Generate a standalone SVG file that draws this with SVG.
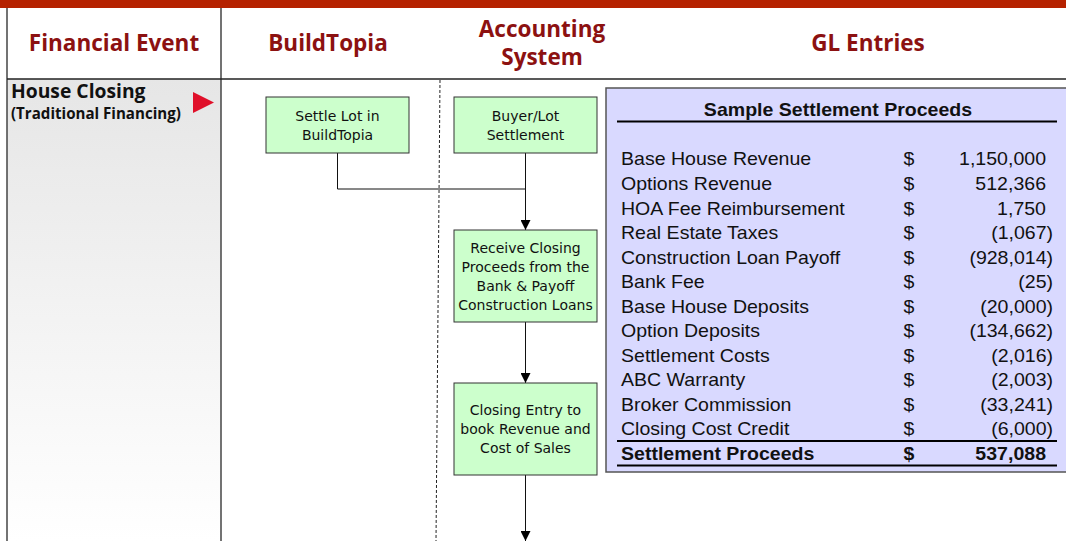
<svg xmlns="http://www.w3.org/2000/svg" width="1066" height="541" viewBox="0 0 1066 541">
<style>
.hdr{font-family:"Open Sans",sans-serif;font-weight:bold;font-size:22.5px;fill:#8c1111;text-anchor:middle}
.box{fill:#ccffcc;stroke:#333;stroke-width:1}
.bt{font-family:"DejaVu Sans",sans-serif;font-size:14px;fill:#111;text-anchor:middle}
.tb{font-family:"Liberation Sans",Arial,sans-serif;font-size:17.5px;fill:#111}
.r{text-anchor:end}
.c{text-anchor:middle}
.b{font-weight:bold}
.conn{stroke:#111;stroke-width:1;fill:none}
</style>
<defs>
<linearGradient id="gray" x1="0" y1="0" x2="0" y2="1">
<stop offset="0" stop-color="#e6e6e6"/>
<stop offset="1" stop-color="#ffffff"/>
</linearGradient>
<marker id="arr" viewBox="0 0 10 10" refX="10" refY="5" markerWidth="10" markerHeight="10" markerUnits="userSpaceOnUse" orient="auto">
<path d="M0,0 L10,5 L0,10 z" fill="#000"/>
</marker>
</defs>
<rect x="0" y="0" width="1066" height="541" fill="#fff"/>
<rect x="0" y="0" width="1066" height="8" fill="#b52200"/>
<g id="lanes">
<rect x="7" y="79" width="214" height="462" fill="url(#gray)"/>
<line x1="7" y1="8" x2="7" y2="541" stroke="#444" stroke-width="1.5"/>
<line x1="221" y1="8" x2="221" y2="541" stroke="#444" stroke-width="1.5"/>
<line x1="7" y1="79" x2="1066" y2="79" stroke="#222" stroke-width="1.5"/>
<line x1="440" y1="80" x2="436" y2="541" stroke="#222" stroke-width="1" stroke-dasharray="3,2"/>
<text class="hdr" x="114" y="51">Financial Event</text>
<text class="hdr" x="328" y="51">BuildTopia</text>
<text class="hdr" x="542" y="37">Accounting</text>
<text class="hdr" x="542" y="65">System</text>
<text class="hdr" x="868" y="51">GL Entries</text>
</g>
<g id="event">
<text x="11" y="98" font-family="'Open Sans',sans-serif" font-weight="bold" font-size="19.3" fill="#111">House Closing</text>
<text x="11" y="119" font-family="'Open Sans',sans-serif" font-weight="bold" font-size="15.1" fill="#111">(Traditional Financing)</text>
<polygon points="193,92 193,113 214,102.5" fill="#e0102a"/>
</g>
<g id="connectors">
<polyline class="conn" points="337.5,153 337.5,189 525.5,189"/>
<line class="conn" x1="525.5" y1="153" x2="525.5" y2="230" marker-end="url(#arr)"/>
<line class="conn" x1="525.5" y1="322" x2="525.5" y2="383" marker-end="url(#arr)"/>
<line class="conn" x1="525.5" y1="475" x2="525.5" y2="541" marker-end="url(#arr)"/>
</g>
<g id="settle-lot">
<rect class="box" x="266" y="97" width="143" height="56"/>
<text class="bt" x="337.5" y="121">Settle Lot in</text>
<text class="bt" x="337.5" y="140">BuildTopia</text>
</g>
<g id="buyer-lot">
<rect class="box" x="454" y="97" width="143" height="56"/>
<text class="bt" x="525.5" y="121">Buyer/Lot</text>
<text class="bt" x="525.5" y="140">Settlement</text>
</g>
<g id="receive">
<rect class="box" x="454" y="230" width="143" height="92"/>
<text class="bt" x="525.5" y="253">Receive Closing</text>
<text class="bt" x="525.5" y="272">Proceeds from the</text>
<text class="bt" x="525.5" y="291">Bank &amp; Payoff</text>
<text class="bt" x="525.5" y="310">Construction Loans</text>
</g>
<g id="closing-entry">
<rect class="box" x="454" y="383" width="143" height="92"/>
<text class="bt" x="525.5" y="415">Closing Entry to</text>
<text class="bt" x="525.5" y="434">book Revenue and</text>
<text class="bt" x="525.5" y="453">Cost of Sales</text>
</g>
<g id="proceeds">
<rect x="606" y="88" width="470" height="384" fill="#d9d9ff" stroke="#555" stroke-width="1.5"/>
<g transform="translate(838,0) scale(1.117,1)">
<text class="tb b c" x="0" y="116.5">Sample Settlement Proceeds</text>
</g>
<line x1="617" y1="121.5" x2="1057" y2="121.5" stroke="#000" stroke-width="2"/>
<g transform="translate(621,0) scale(1.117,1)">
<text class="tb" x="0" y="165.5">Base House Revenue</text>
<text class="tb" x="0" y="190">Options Revenue</text>
<text class="tb" x="0" y="215">HOA Fee Reimbursement</text>
<text class="tb" x="0" y="239.5">Real Estate Taxes</text>
<text class="tb" x="0" y="264">Construction Loan Payoff</text>
<text class="tb" x="0" y="288.5">Bank Fee</text>
<text class="tb" x="0" y="313">Base House Deposits</text>
<text class="tb" x="0" y="337.5">Option Deposits</text>
<text class="tb" x="0" y="362">Settlement Costs</text>
<text class="tb" x="0" y="386.5">ABC Warranty</text>
<text class="tb" x="0" y="411">Broker Commission</text>
<text class="tb" x="0" y="435.5">Closing Cost Credit</text>
<text class="tb b" x="0" y="460">Settlement Proceeds</text>
</g>
<g transform="translate(909,0) scale(1.117,1)">
<text class="tb c" x="0" y="165.5">$</text>
<text class="tb c" x="0" y="190">$</text>
<text class="tb c" x="0" y="215">$</text>
<text class="tb c" x="0" y="239.5">$</text>
<text class="tb c" x="0" y="264">$</text>
<text class="tb c" x="0" y="288.5">$</text>
<text class="tb c" x="0" y="313">$</text>
<text class="tb c" x="0" y="337.5">$</text>
<text class="tb c" x="0" y="362">$</text>
<text class="tb c" x="0" y="386.5">$</text>
<text class="tb c" x="0" y="411">$</text>
<text class="tb c" x="0" y="435.5">$</text>
<text class="tb c b" x="0" y="460">$</text>
</g>
<g transform="translate(1046,0) scale(1.117,1)">
<text class="tb r" x="0" y="165.5">1,150,000</text>
<text class="tb r" x="0" y="190">512,366</text>
<text class="tb r" x="0" y="215">1,750</text>
<text class="tb r" x="6.3" y="239.5">(1,067)</text>
<text class="tb r" x="6.3" y="264">(928,014)</text>
<text class="tb r" x="6.3" y="288.5">(25)</text>
<text class="tb r" x="6.3" y="313">(20,000)</text>
<text class="tb r" x="6.3" y="337.5">(134,662)</text>
<text class="tb r" x="6.3" y="362">(2,016)</text>
<text class="tb r" x="6.3" y="386.5">(2,003)</text>
<text class="tb r" x="6.3" y="411">(33,241)</text>
<text class="tb r" x="6.3" y="435.5">(6,000)</text>
<text class="tb r b" x="0" y="460">537,088</text>
</g>
<line x1="617" y1="441" x2="1057" y2="441" stroke="#000" stroke-width="2"/>
<line x1="617" y1="465.5" x2="1057" y2="465.5" stroke="#000" stroke-width="2"/>
</g>
</svg>
